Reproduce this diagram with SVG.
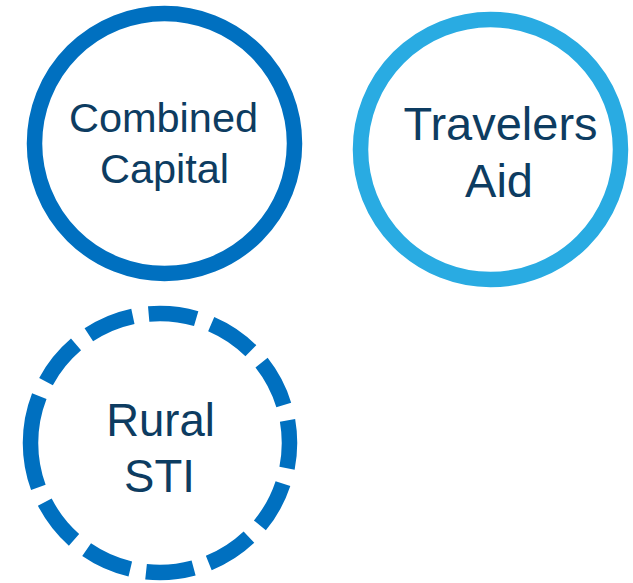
<svg xmlns="http://www.w3.org/2000/svg" width="633" height="583" viewBox="0 0 633 583">
<style>
.ring{fill:#FFFFFF;stroke-width:15.5}
.dark{stroke:#0070C0}
.light{stroke:#29ABE2}
.dashed{stroke-dasharray:48 16}
.lbl{font-family:"Liberation Sans",Arial,sans-serif;fill:#0D3C61;text-anchor:middle}
</style>
<rect width="633" height="583" fill="#FFFFFF"/>
<g id="connectors"/>
<g id="combined-capital">
<circle class="ring dark" cx="164.5" cy="143.5" r="130"/>
<text class="lbl" font-size="41.5"><tspan x="163.5" y="132">Combined</tspan><tspan x="164.5" y="183">Capital</tspan></text>
</g>
<g id="travelers-aid">
<circle class="ring light" cx="490.5" cy="149.5" r="130"/>
<text class="lbl" font-size="47"><tspan x="500.5" y="140">Travelers</tspan><tspan x="499" y="196.5">Aid</tspan></text>
</g>
<g id="rural-sti">
<circle class="ring dark dashed" cx="160" cy="443" r="129.5" transform="rotate(180 160 443)"/>
<text class="lbl" font-size="45.5"><tspan x="160.5" y="435.5">Rural</tspan><tspan x="159.5" y="492">STI</tspan></text>
</g>
</svg>
